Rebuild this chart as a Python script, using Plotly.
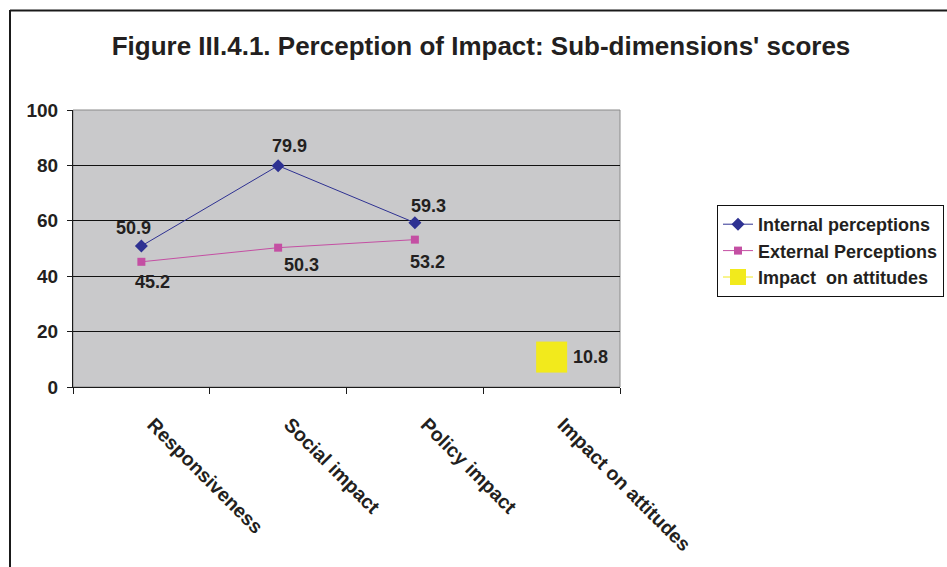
import plotly.graph_objects as go

# ---- data ----
categories = ["Responsiveness", "Social impact", "Policy impact", "Impact on attitudes"]
internal_perceptions = [50.9, 79.9, 59.3]
external_perceptions = [45.2, 50.3, 53.2]
impact_on_attitudes = [10.8]
y_ticks = [0, 20, 40, 60, 80, 100]

# ---- style ----
W, H = 947, 567
L, R, T, B = 73, 620, 110, 387          # plot area in pixels
FONT = "Liberation Sans, Arial, sans-serif"
INK = "#231f20"
BLUE = "#2e3192"
MAGENTA = "#c44fa3"
YELLOW = "#f2ea1c"
PLOT_BG = "#c9c9cb"
PAD = "\u00a0" * 3                      # nudges the slanted labels along their diagonal


def px_x(px):
    return (px - L) / (R - L)


def px_y(py):
    return (B - py) / (B - T)


fig = go.Figure()

fig.add_trace(go.Scatter(
    x=categories[:3], y=internal_perceptions, name="Internal perceptions",
    mode="lines+markers",
    line=dict(color=BLUE, width=1),
    marker=dict(symbol="diamond", size=10, color=BLUE),
))
fig.add_trace(go.Scatter(
    x=categories[:3], y=external_perceptions, name="External Perceptions",
    mode="lines+markers",
    line=dict(color=MAGENTA, width=1),
    marker=dict(symbol="square", size=8, color=MAGENTA),
))
fig.add_trace(go.Scatter(
    x=categories[3:], y=impact_on_attitudes, name="Impact\u00a0 on attitudes",
    mode="lines+markers",
    line=dict(color=YELLOW, width=1),
    marker=dict(symbol="square", size=31, color=YELLOW),
))

# value labels, offset from each point
label_font = dict(family=FONT, size=18, color=INK, weight="bold")
internal_shift = [(-8, 18), (11, 20), (14, 17)]
external_shift = [(11, -20), (23, -17), (13, -22)]
for cat, val, (dx, dy) in zip(categories, internal_perceptions, internal_shift):
    fig.add_annotation(x=cat, y=val, text=f"{val:.1f}", showarrow=False,
                       xshift=dx, yshift=dy, font=label_font)
for cat, val, (dx, dy) in zip(categories, external_perceptions, external_shift):
    fig.add_annotation(x=cat, y=val, text=f"{val:.1f}", showarrow=False,
                       xshift=dx, yshift=dy, font=label_font)
for cat, val in zip(categories[3:], impact_on_attitudes):
    fig.add_annotation(x=cat, y=val, text=f"{val:.1f}", showarrow=False,
                       xshift=39, yshift=0, font=label_font)

# outer frame (left and top edges)
fig.add_shape(type="line", xref="paper", yref="paper",
              x0=px_x(10), x1=px_x(10), y0=px_y(10), y1=px_y(H + 5),
              line=dict(color="#1a1a1a", width=2))
fig.add_shape(type="line", xref="paper", yref="paper",
              x0=px_x(10), x1=px_x(W + 5), y0=px_y(10.5), y1=px_y(10.5),
              line=dict(color="#1a1a1a", width=2))
# gray frame of plot area
fig.add_shape(type="rect", xref="paper", yref="paper",
              x0=0, x1=1, y0=0, y1=1, layer="below",
              line=dict(color="#8a8a8a", width=1))

fig.update_layout(
    width=W, height=H,
    margin=dict(l=L, r=W - R, t=T, b=H - B, autoexpand=False),
    paper_bgcolor="white",
    plot_bgcolor=PLOT_BG,
    font=dict(family=FONT, color=INK),
    title=dict(
        text="<b>Figure III.4.1. Perception of Impact: Sub-dimensions' scores</b>",
        x=481 / W, xref="container", xanchor="center",
        y=1 - 46 / H, yref="container", yanchor="middle",
        font=dict(family=FONT, size=26, color=INK),
    ),
    showlegend=True,
    legend=dict(
        x=px_x(717), y=px_y(205), xanchor="left", yanchor="top",
        bgcolor="white", bordercolor="#111", borderwidth=1,
        font=dict(family=FONT, size=18, color=INK, weight="bold"),
        tracegroupgap=0, itemwidth=30,
    ),
    xaxis=dict(
        type="category", categoryorder="array", categoryarray=categories,
        range=[-0.5, 3.5], automargin=False,
        tickvals=categories, ticktext=[PAD + c for c in categories],
        showgrid=False, zeroline=False,
        showline=True, linecolor="#1a1a1a", linewidth=1,
        ticks="outside", tickson="boundaries", ticklen=6, tickcolor="#1a1a1a",
        tickangle=45, ticklabelstandoff=6,
        tickfont=dict(family=FONT, size=19.5, color=INK, weight="bold"),
    ),
    yaxis=dict(
        range=[0, 100], tickvals=y_ticks, automargin=False,
        showgrid=True, gridcolor="#111", gridwidth=1, zeroline=False,
        showline=True, linecolor="#1a1a1a", linewidth=1,
        ticks="outside", ticklen=5, tickcolor="#1a1a1a", ticklabelstandoff=5,
        tickfont=dict(family=FONT, size=19, color=INK, weight="bold"),
    ),
)

fig.write_html("out.html")
